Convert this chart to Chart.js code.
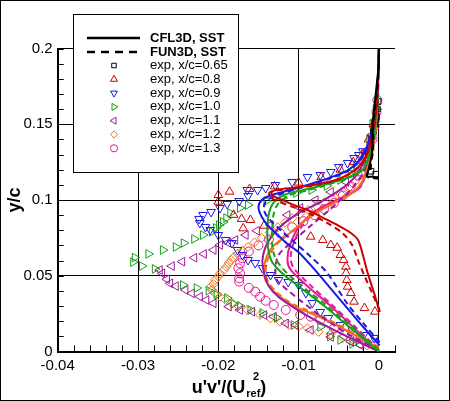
<!DOCTYPE html>
<html><head><meta charset="utf-8">
<script src="https://cdn.jsdelivr.net/npm/chart.js@4.4.0/dist/chart.umd.min.js"></script>
<style>html,body{margin:0;padding:0;background:#fff}canvas{display:block}</style>
</head><body><canvas id="c" width="450" height="401"></canvas>
<script>
// ---------- axis ticks ----------
const xTickValues = [-0.04, -0.03, -0.02, -0.01, 0];
const yTickValues = [0, 0.05, 0.1, 0.15, 0.2];

// ---------- experimental data [x, y] ----------
const exp065 = [[-0.0004,0.117],[-0.0010,0.119],[-0.0013,0.122],[-0.0014,0.126],[-0.0013,0.130],[-0.0011,0.135],[-0.0009,0.140],[-0.0007,0.145],[-0.0005,0.150],[-0.0003,0.155],[-0.0002,0.160],[-0.0001,0.165]];
const exp08 = [[-0.0005,0.0263],[-0.0018,0.0287],[-0.0031,0.0329],[-0.0035,0.0386],[-0.0039,0.0428],[-0.0040,0.0472],[-0.0041,0.0518],[-0.0041,0.0560],[-0.0044,0.0604],[-0.0048,0.0637],[-0.0052,0.0685],[-0.0060,0.0703],[-0.0070,0.0736],[-0.0085,0.0758],[-0.0143,0.0830],[-0.0160,0.0868],[-0.0169,0.0813],[-0.0171,0.0875],[-0.0181,0.0902],[-0.0200,0.0989],[-0.0200,0.1033],[-0.0186,0.1055],[-0.0161,0.1073],[-0.0130,0.1090],[-0.0100,0.1115],[-0.0072,0.1150],[-0.0048,0.1200],[-0.0032,0.1250],[-0.0021,0.1300],[-0.0013,0.1400],[-0.0007,0.1500]];
const exp09 = [[-0.0006,0.0089],[-0.0019,0.0109],[-0.0033,0.0142],[-0.0048,0.0175],[-0.0063,0.0221],[-0.0073,0.0261],[-0.0083,0.0320],[-0.0091,0.0386],[-0.0100,0.0439],[-0.0113,0.0459],[-0.0125,0.0472],[-0.0135,0.0505],[-0.0145,0.0551],[-0.0154,0.0584],[-0.0163,0.0604],[-0.0170,0.0637],[-0.0176,0.0670],[-0.0183,0.0716],[-0.0191,0.0736],[-0.0200,0.0769],[-0.0210,0.0802],[-0.0216,0.0822],[-0.0223,0.0848],[-0.0224,0.0875],[-0.0219,0.0901],[-0.0209,0.0921],[-0.0198,0.0947],[-0.0189,0.0974],[-0.0174,0.0993],[-0.0163,0.1026],[-0.0164,0.1066],[-0.0151,0.1066],[-0.0141,0.1079],[-0.0129,0.1099],[-0.0108,0.1119],[-0.0089,0.1152],[-0.0073,0.1165],[-0.0060,0.1185],[-0.0050,0.1218],[-0.0039,0.1244],[-0.0031,0.1277],[-0.0025,0.1297],[-0.0020,0.1322]];
const exp10 = [[-0.0033,0.0050],[-0.0048,0.0076],[-0.0061,0.0098],[-0.0073,0.0162],[-0.0106,0.0175],[-0.0127,0.0221],[-0.0145,0.0254],[-0.0160,0.0274],[-0.0173,0.0300],[-0.0181,0.0314],[-0.0189,0.0353],[-0.0202,0.0373],[-0.0212,0.0401],[-0.0227,0.0419],[-0.0244,0.0439],[-0.0279,0.0545],[-0.0295,0.0564],[-0.0306,0.0590],[-0.0304,0.0620],[-0.0287,0.0644],[-0.0269,0.0670],[-0.0253,0.0690],[-0.0243,0.0716],[-0.0230,0.0743],[-0.0219,0.0769],[-0.0208,0.0789],[-0.0203,0.0815],[-0.0199,0.0835],[-0.0194,0.0855],[-0.0190,0.0881],[-0.0185,0.0914],[-0.0173,0.0947],[-0.0163,0.0967],[-0.0140,0.0993],[-0.0120,0.1013],[-0.0103,0.1046],[-0.0084,0.1066],[-0.0065,0.1093],[-0.0048,0.1132],[-0.0035,0.1178],[-0.0028,0.1231],[-0.0018,0.1300],[-0.0012,0.1400],[-0.0008,0.1500],[-0.0004,0.1600]];
const exp11 = [[-0.0023,0.0043],[-0.0035,0.0065],[-0.0060,0.0096],[-0.0085,0.0142],[-0.0104,0.0175],[-0.0116,0.0186],[-0.0131,0.0230],[-0.0143,0.0241],[-0.0158,0.0263],[-0.0173,0.0274],[-0.0187,0.0296],[-0.0206,0.0318],[-0.0215,0.0340],[-0.0223,0.0362],[-0.0233,0.0384],[-0.0241,0.0406],[-0.0253,0.0432],[-0.0260,0.0450],[-0.0264,0.0477],[-0.0270,0.0516],[-0.0273,0.0538],[-0.0258,0.0564],[-0.0245,0.0593],[-0.0230,0.0619],[-0.0218,0.0644],[-0.0206,0.0670],[-0.0198,0.0703],[-0.0188,0.0718],[-0.0179,0.0736],[-0.0166,0.0769],[-0.0152,0.0797],[-0.0135,0.0835],[-0.0114,0.0901],[-0.0098,0.0947],[-0.0079,0.1000],[-0.0060,0.1053],[-0.0041,0.1119],[-0.0029,0.1185],[-0.0020,0.1251],[-0.0014,0.1330],[-0.0009,0.1429],[-0.0005,0.1528]];
const exp12 = [[-0.0015,0.0040],[-0.0030,0.0065],[-0.0045,0.0090],[-0.0060,0.0115],[-0.0075,0.0130],[-0.0089,0.0153],[-0.0100,0.0165],[-0.0112,0.0175],[-0.0123,0.0197],[-0.0135,0.0219],[-0.0148,0.0241],[-0.0164,0.0274],[-0.0175,0.0300],[-0.0183,0.0320],[-0.0191,0.0340],[-0.0198,0.0362],[-0.0204,0.0384],[-0.0208,0.0406],[-0.0210,0.0425],[-0.0206,0.0445],[-0.0204,0.0472],[-0.0200,0.0494],[-0.0198,0.0516],[-0.0193,0.0538],[-0.0190,0.0560],[-0.0187,0.0582],[-0.0184,0.0604],[-0.0181,0.0622],[-0.0176,0.0645],[-0.0170,0.0665],[-0.0163,0.0690],[-0.0155,0.0720],[-0.0146,0.0750],[-0.0136,0.0785],[-0.0126,0.0820],[-0.0117,0.0850],[-0.0108,0.0880],[-0.0098,0.0910],[-0.0088,0.0935],[-0.0078,0.0960],[-0.0068,0.0985],[-0.0058,0.1010],[-0.0048,0.1040],[-0.0038,0.1080],[-0.0030,0.1120],[-0.0022,0.1180],[-0.0016,0.1250],[-0.0011,0.1330],[-0.0007,0.1420],[-0.0004,0.1520],[-0.0002,0.1600]];
const exp13 = [[-0.0023,0.0054],[-0.0035,0.0076],[-0.0043,0.0109],[-0.0056,0.0153],[-0.0073,0.0208],[-0.0085,0.0230],[-0.0098,0.0241],[-0.0116,0.0274],[-0.0131,0.0307],[-0.0141,0.0335],[-0.0148,0.0362],[-0.0154,0.0395],[-0.0162,0.0420],[-0.0174,0.0461],[-0.0174,0.0483],[-0.0173,0.0516],[-0.0175,0.0549],[-0.0173,0.0582],[-0.0170,0.0615],[-0.0162,0.0660],[-0.0150,0.0700],[-0.0137,0.0740],[-0.0123,0.0780],[-0.0108,0.0820],[-0.0094,0.0860],[-0.0080,0.0900],[-0.0068,0.0940],[-0.0056,0.0980],[-0.0045,0.1030],[-0.0035,0.1090],[-0.0026,0.1160],[-0.0019,0.1230],[-0.0013,0.1310],[-0.0008,0.1400],[-0.0005,0.1490],[-0.0003,0.1580],[-0.0002,0.1660]];

// ---------- CFL3D (solid) and FUN3D (dashed) curves ----------
const cfl065 = [[0,0.1150],[-0.0008,0.1153],[-0.0015,0.1158],[-0.0013,0.120],[-0.0009,0.130],[-0.0008,0.140],[-0.0008,0.150],[-0.0006,0.160],[-0.0004,0.170],[-0.0002,0.180],[0,0.190],[0,0.200]];
const fun065 = [[0,0.1140],[-0.0015,0.1155],[-0.0012,0.120],[-0.0008,0.130],[-0.0007,0.140],[-0.0007,0.150],[-0.0005,0.160],[-0.0003,0.170],[-0.0001,0.180],[0,0.200]];
const cfl08 = [[0.0001,0.0260],[-0.0006,0.0386],[-0.0014,0.0518],[-0.0020,0.0637],[-0.0026,0.0736],[-0.0035,0.0782],[-0.0052,0.0835],[-0.0069,0.0881],[-0.0089,0.0934],[-0.0106,0.0967],[-0.0120,0.1000],[-0.0131,0.1025],[-0.0134,0.1050],[-0.0125,0.1070],[-0.0105,0.1082],[-0.0080,0.1100],[-0.0055,0.1130],[-0.0035,0.1180],[-0.0020,0.1250],[-0.0012,0.1350],[-0.0006,0.1500],[-0.0002,0.1700],[0,0.200]];
const fun08 = [[0.0001,0.0270],[-0.0008,0.0380],[-0.0018,0.0500],[-0.0026,0.0600],[-0.0033,0.0700],[-0.0045,0.0780],[-0.0065,0.0850],[-0.0085,0.0905],[-0.0105,0.0950],[-0.0125,0.0990],[-0.0136,0.1020],[-0.0136,0.1050],[-0.0120,0.1068],[-0.0095,0.1085],[-0.0070,0.1108],[-0.0048,0.1140],[-0.0031,0.1190],[-0.0019,0.1260],[-0.0011,0.1360],[-0.0005,0.1520],[-0.0002,0.1700],[0,0.200]];
const cfl09 = [[0.0001,0.0040],[-0.0020,0.0165],[-0.0040,0.0290],[-0.0060,0.0415],[-0.0080,0.0540],[-0.0100,0.0655],[-0.0115,0.0715],[-0.0127,0.0775],[-0.0138,0.0830],[-0.0146,0.0890],[-0.0150,0.0950],[-0.0146,0.1000],[-0.0135,0.1030],[-0.0122,0.1050],[-0.0105,0.1075],[-0.0089,0.1100],[-0.0073,0.1125],[-0.0060,0.1150],[-0.0045,0.1180],[-0.0035,0.1210],[-0.0022,0.1280],[-0.0013,0.1380],[-0.0006,0.1520],[-0.0002,0.1700],[0,0.200]];
const fun09 = [[0.0001,0.0060],[-0.0020,0.0190],[-0.0040,0.0320],[-0.0064,0.0516],[-0.0085,0.0626],[-0.0105,0.0720],[-0.0122,0.0800],[-0.0136,0.0870],[-0.0143,0.0930],[-0.0141,0.0990],[-0.0128,0.1030],[-0.0110,0.1060],[-0.0090,0.1092],[-0.0062,0.1140],[-0.0036,0.1200],[-0.0022,0.1275],[-0.0013,0.1375],[-0.0006,0.1515],[-0.0002,0.1700],[0,0.200]];
const cfl10 = [[0,0],[-0.0025,0.0110],[-0.0050,0.0220],[-0.0068,0.0300],[-0.0090,0.0390],[-0.0110,0.0470],[-0.0125,0.0540],[-0.0134,0.0600],[-0.0138,0.0680],[-0.0139,0.0800],[-0.0137,0.0910],[-0.0131,0.0985],[-0.0118,0.1033],[-0.0095,0.1065],[-0.0077,0.1088],[-0.0055,0.1120],[-0.0035,0.1154],[-0.0020,0.1200],[-0.0012,0.1300],[-0.0007,0.1400],[-0.0004,0.1550],[-0.0002,0.1700],[0,0.200]];
const fun10 = [[0,0.0010],[-0.0025,0.0125],[-0.0050,0.0235],[-0.0070,0.0325],[-0.0092,0.0415],[-0.0110,0.0495],[-0.0122,0.0560],[-0.0130,0.0630],[-0.0133,0.0710],[-0.0133,0.0810],[-0.0131,0.0910],[-0.0125,0.0980],[-0.0112,0.1030],[-0.0090,0.1063],[-0.0072,0.1088],[-0.0052,0.1122],[-0.0033,0.1160],[-0.0019,0.1210],[-0.0011,0.1310],[-0.0006,0.1420],[-0.0003,0.1560],[-0.0001,0.1700],[0,0.200]];
const cfl11 = [[0,0],[-0.0040,0.0100],[-0.0070,0.0180],[-0.0100,0.0270],[-0.0125,0.0360],[-0.0137,0.0431],[-0.0143,0.0518],[-0.0145,0.0606],[-0.0139,0.0714],[-0.0123,0.0824],[-0.0098,0.0920],[-0.0075,0.0980],[-0.0056,0.1040],[-0.0040,0.1100],[-0.0026,0.1180],[-0.0015,0.1300],[-0.0008,0.1450],[-0.0003,0.1650],[0,0.200]];
const fun11 = [[0,0.0010],[-0.0040,0.0120],[-0.0077,0.0252],[-0.0114,0.0406],[-0.0127,0.0472],[-0.0129,0.0538],[-0.0125,0.0637],[-0.0106,0.0733],[-0.0085,0.0830],[-0.0065,0.0920],[-0.0048,0.1000],[-0.0033,0.1080],[-0.0021,0.1170],[-0.0012,0.1300],[-0.0006,0.1460],[-0.0002,0.1660],[0,0.200]];
const cfl12 = [[0,0.0020],[-0.0032,0.0115],[-0.0064,0.0203],[-0.0088,0.0260],[-0.0106,0.0300],[-0.0127,0.0377],[-0.0138,0.0440],[-0.0143,0.0500],[-0.0143,0.0560],[-0.0139,0.0638],[-0.0131,0.0700],[-0.0114,0.0769],[-0.0089,0.0879],[-0.0070,0.0940],[-0.0052,0.0989],[-0.0035,0.1040],[-0.0022,0.1110],[-0.0012,0.1250],[-0.0006,0.1400],[-0.0002,0.1650],[0,0.200]];
const fun12 = [[0,0.0030],[-0.0032,0.0125],[-0.0064,0.0213],[-0.0090,0.0275],[-0.0110,0.0320],[-0.0128,0.0395],[-0.0138,0.0460],[-0.0141,0.0520],[-0.0140,0.0580],[-0.0135,0.0650],[-0.0126,0.0715],[-0.0110,0.0785],[-0.0086,0.0890],[-0.0067,0.0950],[-0.0050,0.1000],[-0.0033,0.1050],[-0.0021,0.1120],[-0.0011,0.1260],[-0.0005,0.1410],[-0.0002,0.1650],[0,0.200]];
const cfl13 = [[0,0],[-0.0030,0.0150],[-0.0060,0.0300],[-0.0089,0.0431],[-0.0110,0.0540],[-0.0114,0.0606],[-0.0110,0.0714],[-0.0098,0.0834],[-0.0077,0.0933],[-0.0048,0.1011],[-0.0023,0.1088],[-0.0012,0.1300],[-0.0006,0.1500],[-0.0002,0.1700],[0,0.200]];
const fun13 = [[0,0.0010],[-0.0030,0.0165],[-0.0060,0.0315],[-0.0087,0.0445],[-0.0106,0.0550],[-0.0110,0.0615],[-0.0106,0.0720],[-0.0094,0.0840],[-0.0074,0.0938],[-0.0046,0.1015],[-0.0022,0.1095],[-0.0011,0.1310],[-0.0005,0.1510],[-0.0002,0.1700],[0,0.200]];

// ---------- labels ----------
const stationLabels = ['exp, x/c=0.65','exp, x/c=0.8','exp, x/c=0.9','exp, x/c=1.0','exp, x/c=1.1','exp, x/c=1.2','exp, x/c=1.3'];
const lineLabels = ['CFL3D, SST','FUN3D, SST'];
const yTitle = 'y/c';

// ---------- styling ----------
const COLORS = ['#000000','#cc0000','#1a1ae6','#15a015','#a0189c','#f07020','#e8189a'];
const SYMBOLS = [
  {pointStyle:'rect', rotation:0, radius:4},
  {pointStyle:'triangle', rotation:0, radius:5},
  {pointStyle:'triangle', rotation:180, radius:5},
  {pointStyle:'triangle', rotation:90, radius:5},
  {pointStyle:'triangle', rotation:270, radius:5},
  {pointStyle:'rectRot', rotation:0, radius:4.5},
  {pointStyle:'circle', rotation:0, radius:4.5}
];
const FONT = '"Liberation Sans", Arial, Helvetica, sans-serif';

const expSets = [exp065, exp08, exp09, exp10, exp11, exp12, exp13];
const cflSets = [cfl065, cfl08, cfl09, cfl10, cfl11, cfl12, cfl13];
const funSets = [fun065, fun08, fun09, fun10, fun11, fun12, fun13];
const toXY = a => a.map(p => ({x:p[0], y:p[1]}));

const datasets = [];
for (let i = 0; i < 7; i++) {
  datasets.push({label:'CFL3D '+stationLabels[i], data:toXY(cflSets[i]), showLine:true, borderColor:COLORS[i], borderWidth:2, pointRadius:0, fill:false, tension:0.3});
  datasets.push({label:'FUN3D '+stationLabels[i], data:toXY(funSets[i]), showLine:true, borderColor:COLORS[i], borderWidth:2, borderDash:[6,4], pointRadius:0, fill:false, tension:0.3});
}
for (let i = 0; i < 7; i++) {
  datasets.push({label:stationLabels[i], data:toXY(expSets[i]), showLine:false, borderColor:COLORS[i], backgroundColor:'rgba(0,0,0,0)', pointBorderWidth:1,
    pointStyle:SYMBOLS[i].pointStyle, pointRotation:SYMBOLS[i].rotation, pointRadius:SYMBOLS[i].radius});
}

const isMajor = (v, step) => Math.abs(v/step - Math.round(v/step)) < 1e-6;

const decor = {
  id:'decor',
  beforeDraw(chart){
    const c = chart.ctx; c.save(); c.fillStyle='#fff'; c.fillRect(0,0,chart.width,chart.height); c.restore();
  },
  beforeDatasetsDraw(chart){
    const c = chart.ctx, xs = chart.scales.x, ys = chart.scales.y, a = chart.chartArea;
    c.save(); c.strokeStyle='#000'; c.lineWidth=1;
    for (let k = 0; k <= 21; k++) {
      const v = -0.04 + k*0.002, px = Math.round(xs.getPixelForValue(v))+0.5;
      c.beginPath(); c.moveTo(px, a.bottom); c.lineTo(px, a.bottom - (isMajor(v,0.01)?0:6)); c.stroke();
    }
    for (let k = 0; k <= 20; k++) {
      const v = k*0.01, py = Math.round(ys.getPixelForValue(v))+0.5;
      c.beginPath(); c.moveTo(a.left, py); c.lineTo(a.left + 6, py); c.stroke();
    }
    c.restore();
  },
  afterDraw(chart){
    const c = chart.ctx;
    c.save();
    // legend
    const L = 73.5, T = 14.5, W = 165, H = 158;
    c.fillStyle='#fff'; c.fillRect(L,T,W,H);
    c.strokeStyle='#000'; c.lineWidth=1; c.strokeRect(L,T,W,H);
    c.textBaseline='middle'; c.textAlign='left'; c.fillStyle='#000';
    const rowY = [38, 52, 65.5, 79.3, 93.1, 106.9, 120.7, 134.5, 148.3];
    c.lineWidth=2.5;
    c.beginPath(); c.moveTo(87,rowY[0]); c.lineTo(140,rowY[0]); c.stroke();
    c.setLineDash([8,6]); c.beginPath(); c.moveTo(87,rowY[1]); c.lineTo(140,rowY[1]); c.stroke(); c.setLineDash([]);
    c.font = 'bold 13px '+FONT;
    c.fillText(lineLabels[0], 150, rowY[0]);
    c.fillText(lineLabels[1], 150, rowY[1]);
    c.font = '13px '+FONT;
    for (let i = 0; i < 7; i++) {
      const y = rowY[i+2];
      c.strokeStyle = COLORS[i]; c.fillStyle = 'rgba(0,0,0,0)'; c.lineWidth = 1;
      Chart.helpers.drawPoint(c, {pointStyle:SYMBOLS[i].pointStyle, rotation:SYMBOLS[i].rotation, radius:SYMBOLS[i].radius*0.8, borderWidth:1}, 114, y);
      c.fillStyle='#000';
      c.fillText(stationLabels[i], 150, y);
    }
    // x title with sub/superscript
    const f1 = 'bold 18px '+FONT, f2 = 'bold 11px '+FONT;
    c.font = f1; const w1 = c.measureText("u'v'/(U").width, wP = c.measureText(')').width;
    c.font = f2; const wr = c.measureText('ref').width;
    const total = w1 + wr + wP + 1;
    let x0 = 229 - total/2;
    c.textBaseline='alphabetic';
    c.font = f1; c.fillText("u'v'/(U", x0, 393);
    c.font = f2; c.fillText('ref', x0 + w1 + 1, 397);
    c.fillText('2', x0 + w1 + wr*0.55, 380);
    c.font = f1; c.fillText(')', x0 + w1 + wr + 1, 393);
    // y title
    c.translate(15, 200); c.rotate(-Math.PI/2);
    c.textAlign='center'; c.textBaseline='middle'; c.font = 'bold 18px '+FONT;
    c.fillText(yTitle, 0, 0);
    c.restore();
    // frame
    c.save(); c.strokeStyle='#000'; c.lineWidth=1; c.strokeRect(0.5,0.5,chart.width-1,chart.height-1); c.restore();
  }
};

new Chart(document.getElementById('c'), {
  type:'scatter',
  data:{datasets},
  options:{
    responsive:false, animation:false, devicePixelRatio:1,
    layout:{padding:{left:0, right:55, top:48.5, bottom:0}},
    plugins:{legend:{display:false}, tooltip:{enabled:false}},
    scales:{
      x:{type:'linear', min:-0.04, max:0.002,
        afterBuildTicks(s){ s.ticks = xTickValues.map(v => ({value:v})); },
        afterFit(s){ s.height = 49.5; },
        ticks:{autoSkip:false, maxRotation:0, padding:5, color:'#000', font:{family:FONT, size:15},
          callback:(v) => String(Math.round(v*100)/100)},
        grid:{color:'#000', lineWidth:1, drawTicks:false},
        border:{color:'#000', width:2}},
      y:{type:'linear', min:0, max:0.2,
        afterBuildTicks(s){ s.ticks = yTickValues.map(v => ({value:v})); },
        afterFit(s){ s.width = 57.7; },
        ticks:{autoSkip:false, padding:5, color:'#000', font:{family:FONT, size:15},
          callback:(v) => String(Math.round(v*100)/100)},
        grid:{color:'#000', lineWidth:1, drawTicks:false},
        border:{color:'#000', width:2}}
    }
  },
  plugins:[decor]
});
</script>
</body></html>
